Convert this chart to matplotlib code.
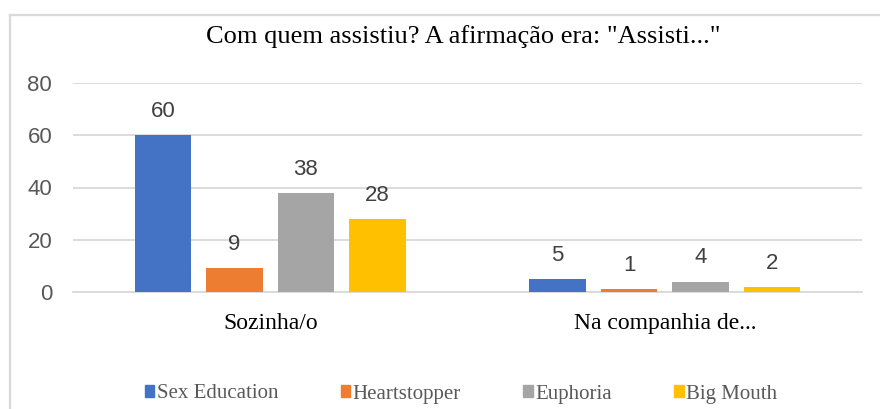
import matplotlib
matplotlib.use("Agg")
import matplotlib.pyplot as plt
import numpy as np
from matplotlib.patches import Rectangle
from matplotlib.lines import Line2D

categories = ["Sozinha/o", "Na companhia de..."]
series_names = ["Sex Education", "Heartstopper", "Euphoria", "Big Mouth"]
sex_education = [60, 5]
heartstopper = [9, 1]
euphoria = [38, 4]
big_mouth = [28, 2]
colors = ["#4472C4", "#ED7D31", "#A5A5A5", "#FFC000"]
yticks = [0, 20, 40, 60, 80]
title = 'Com quem assistiu? A afirmação era: "Assisti..."'

series = [sex_education, heartstopper, euphoria, big_mouth]

fig = plt.figure(figsize=(8.8, 4.09), dpi=100)
W, H = 880, 409

# chart border
fig.add_artist(Line2D([9.5 / W, 1.0], [1 - 14.5 / H, 1 - 14.5 / H], color="#d9d9d9", lw=1.6,
                      transform=fig.transFigure))
fig.add_artist(Line2D([9.5 / W, 9.5 / W], [0, 1 - 14.5 / H], color="#d9d9d9", lw=1.6,
                      transform=fig.transFigure))

ax = fig.add_axes([73 / W, 1 - 292 / H, (862 - 73) / W, (292 - 83) / H])
x = np.arange(len(categories))
bw = 0.143
step = 0.181
offsets = [-1.5 * step, -0.5 * step, 0.5 * step, 1.5 * step]
for vals, off, c, name in zip(series, offsets, colors, series_names):
    bars = ax.bar(x + off, vals, width=bw, color=c, label=name, zorder=3)
    for xi, v in zip(x + off, vals):
        ax.annotate(str(v), (xi, v), xytext=(0, 13), textcoords="offset points",
                    ha="center", va="baseline", fontsize=16, color="#404040",
                    family="Liberation Sans")

ax.set_xlim(-0.5, 1.5)
ax.set_ylim(0, 80)
ax.set_yticks(yticks)
ax.set_yticklabels([str(t) for t in yticks], fontsize=16, color="#595959", family="Liberation Sans")
ax.set_xticks(x)
ax.set_xticklabels(categories, fontsize=17, color="#000000", family="Liberation Serif")
ax.tick_params(axis="both", length=0)
ax.tick_params(axis="y", pad=15)
ax.tick_params(axis="x", pad=15)
ax.grid(axis="y", color="#d9d9d9", lw=1.3, zorder=0)
for s in ["top", "right", "left"]:
    ax.spines[s].set_visible(False)
ax.spines["bottom"].set_color("#d9d9d9")
ax.spines["bottom"].set_linewidth(1.3)

fig.text(463 / W, 1 - 37 / H, title, ha="center", va="center", fontsize=19,
         family="Liberation Serif", color="#000000")

handles = [Rectangle((0, 0), 1, 1, color=c) for c in colors]
leg = fig.legend(handles, series_names, loc="center", bbox_to_anchor=(461 / W, 1 - 394 / H),
                 ncol=4, frameon=False, handlelength=0.45, handleheight=0.45, handletextpad=0.12,
                 columnspacing=3.0, prop={"family": "Liberation Serif", "size": 15})
for t in leg.get_texts():
    t.set_color("#595959")

fig.savefig("out.png", dpi=100)
